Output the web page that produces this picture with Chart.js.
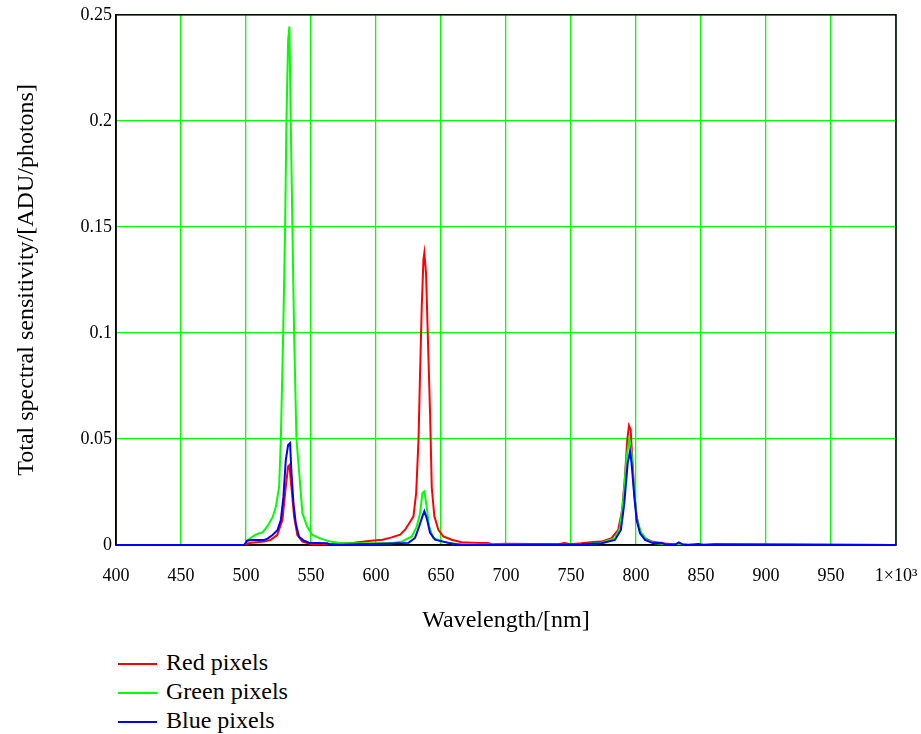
<!DOCTYPE html>
<html>
<head>
<meta charset="utf-8">
<script src="https://cdn.jsdelivr.net/npm/chart.js@4.4.0/dist/chart.umd.min.js"></script>
<style>
    body { margin: 0; background: #fff; }
    #wrap { position: relative; width: 921px; height: 734px; }
    #chart { position: absolute; left: 0; top: 0; }
    .legend { position: absolute; left: 118px; top: 648px; font-family: "Liberation Serif", serif; font-size: 24px; color: #000; }
    .legend div { height: 29px; line-height: 29px; white-space: nowrap; }
    .legend .swatch { display: inline-block; width: 39px; height: 0; border-top: 2px solid; vertical-align: middle; margin-right: 9px; }
</style>
</head>
<body>
<div id="wrap">
    <canvas id="chart" width="921" height="645"></canvas>
    <div class="legend" id="legend"></div>
</div>
<script>
// Axis ticks
const xTickValues = [400, 450, 500, 550, 600, 650, 700, 750, 800, 850, 900, 950, 1000];
const xTickLabels = ['400', '450', '500', '550', '600', '650', '700', '750', '800', '850', '900', '950', '1×10³'];
const yTickLabels = ['0', '0.05', '0.1', '0.15', '0.2', '0.25'];

// Red pixels (wavelength nm / sensitivity)
const redNm = [400, 498, 500, 504, 514, 519, 524, 528, 530.6, 532.4, 533.4, 534.9, 537, 539.5, 543.4, 549.7, 565, 583, 596, 605,
    612, 618.6, 622.4, 626.3, 628.8, 630.9, 632.7, 633.9, 635.2, 636.5, 637.2, 638.5, 639.8, 641.6, 642.9, 644.9, 648, 651.8, 658.2, 665.8,
    678.6, 686, 690, 700, 740, 745, 750, 758, 767, 773.5, 781.2, 786.3, 789.4, 791.5, 793.3, 794.6, 795.9, 797.2, 798.7, 800.5,
    803.1, 807, 812.1, 819.8, 830, 1000];
const redVal = [0, 0, 0.0005, 0.0011, 0.0016, 0.0024, 0.0047, 0.0118, 0.0275, 0.037, 0.0377, 0.0275, 0.0134, 0.0047, 0.0016, 0.0005, 0.0005, 0.0011, 0.002, 0.0025,
    0.0036, 0.0049, 0.0072, 0.011, 0.0135, 0.0245, 0.0497, 0.081, 0.1126, 0.1346, 0.1377, 0.128, 0.1, 0.062, 0.027, 0.0135, 0.0072, 0.004, 0.0025, 0.0013,
    0.001, 0.0009, 0.0003, 0.0006, 0.0004, 0.0009, 0.0004, 0.0008, 0.0014, 0.0016, 0.0032, 0.0071, 0.0166, 0.0323, 0.0497, 0.0563, 0.0544, 0.0402, 0.0244, 0.0134,
    0.0063, 0.0032, 0.0016, 0.0008, 0.0002, 0];

// Green pixels
const greenNm = [400, 498.7, 500, 502.6, 507.7, 512.8, 516.6, 520.4, 523, 525.5, 526.8, 528.6, 530.1, 531.1, 532.4, 533.4, 534.4, 535.7, 537, 538.8,
    540.8, 543.4, 547, 551, 557.4, 565, 572.7, 600, 612, 620, 627.6, 631.4, 633.9, 635.7, 637.2, 639, 640.8, 644, 650.5, 660.7,
    680, 760, 773.5, 783.8, 787.6, 790.2, 792.8, 794.8, 796.6, 798.5, 800.5, 803.9, 808.2, 814.7, 830, 1000];
const greenVal = [0, 0, 0.001, 0.003, 0.005, 0.006, 0.009, 0.013, 0.018, 0.0275, 0.05, 0.1, 0.15, 0.2, 0.238, 0.2445, 0.2, 0.15, 0.1, 0.05,
    0.035, 0.015, 0.0087, 0.0047, 0.003, 0.0016, 0.0008, 0.0008, 0.0008, 0.0017, 0.004, 0.0088, 0.015, 0.0245, 0.0253, 0.018, 0.0088, 0.0033, 0.0017, 0.0006,
    0.0002, 0.0003, 0.0011, 0.0032, 0.0079, 0.0213, 0.0418, 0.0497, 0.0434, 0.026, 0.0126, 0.0058, 0.0024, 0.0008, 0.0002, 0];

// Blue pixels
const blueNm = [400, 498.7, 500.8, 503.8, 514, 516.6, 520.4, 524.2, 526.8, 528.8, 530.6, 532.4, 533.9, 534.9, 536.5, 538.3, 540.8, 544.6, 548.5, 562.5,
    565, 625, 630, 633.2, 635.7, 637.2, 639, 641.6, 645.4, 655.6, 665, 758, 773.5, 783.8, 788.4, 791, 793.6, 795.4, 796.6, 798.7,
    800.5, 803.1, 807, 813.4, 819.8, 822.4, 830, 833, 836, 840.5, 848, 852, 860, 1000];
const blueVal = [0, 0, 0.002, 0.0024, 0.0024, 0.003, 0.0047, 0.007, 0.0118, 0.0228, 0.04, 0.0472, 0.048, 0.035, 0.0197, 0.0102, 0.0039, 0.002, 0.0011, 0.0008,
    0, 0.001, 0.0033, 0.0088, 0.0135, 0.0159, 0.0127, 0.0057, 0.0025, 0.001, 0, 0.0003, 0.0008, 0.0024, 0.0071, 0.0197, 0.0386, 0.0442, 0.0386, 0.0229,
    0.0118, 0.0055, 0.0024, 0.0008, 0.0011, 0.0003, 0.0002, 0.0012, 0.0002, 0, 0.0005, 0, 0.0003, 0];

const seriesNames = ['Red pixels', 'Green pixels', 'Blue pixels'];
const seriesColors = ['#ff0000', '#00ff00', '#0000ff'];

function toPoints(xs, ys) {
    return xs.map((x, i) => ({ x: x, y: ys[i] }));
}

const serif = '"Liberation Serif", "Times New Roman", serif';

// black frame round the plot area (top and right sides)
const framePlugin = {
    id: 'frame',
    beforeDatasetsDraw(chart) {
        const { ctx, chartArea: a } = chart;
        ctx.save();
        ctx.strokeStyle = '#000';
        ctx.lineWidth = 1.5;
        ctx.strokeRect(a.left, a.top, a.right - a.left, a.bottom - a.top);
        ctx.restore();
    }
};

new Chart(document.getElementById('chart'), {
    type: 'line',
    data: {
        datasets: [
            { label: seriesNames[0], data: toPoints(redNm, redVal), borderColor: seriesColors[0], order: 3 },
            { label: seriesNames[1], data: toPoints(greenNm, greenVal), borderColor: seriesColors[1], order: 2 },
            { label: seriesNames[2], data: toPoints(blueNm, blueVal), borderColor: seriesColors[2], order: 1 }
        ]
    },
    options: {
        responsive: false,
        animation: false,
        devicePixelRatio: 1,
        layout: { padding: { left: 0, right: 25, top: 13, bottom: 0 } },
        elements: {
            line: { borderWidth: 2, tension: 0 },
            point: { radius: 0 }
        },
        plugins: {
            legend: { display: false },
            tooltip: { enabled: false }
        },
        scales: {
            x: {
                type: 'linear',
                min: 400,
                max: 1000,
                afterFit(scale) {
                    scale.height = 100;
                    scale.paddingLeft = 0;
                    scale.paddingRight = 0;
                },
                afterBuildTicks(scale) { scale.ticks = xTickValues.map(v => ({ value: v })); },
                ticks: {
                    autoSkip: false,
                    maxRotation: 0,
                    padding: 20,
                    color: '#000',
                    font: { family: serif, size: 18 },
                    callback: (value) => xTickLabels[xTickValues.indexOf(value)]
                },
                grid: { color: '#00ff00', lineWidth: 1.3, drawTicks: false },
                border: { color: '#000', width: 1.5 },
                title: {
                    display: true,
                    text: 'Wavelength/[nm]',
                    color: '#000',
                    font: { family: serif, size: 24 },
                    padding: { top: 0, bottom: 10 }
                }
            },
            y: {
                min: 0,
                max: 0.25,
                afterFit(scale) { scale.width = 116; },
                ticks: {
                    stepSize: 0.05,
                    padding: 4,
                    color: '#000',
                    font: { family: serif, size: 18 },
                    callback: (value, index) => yTickLabels[index]
                },
                grid: { color: '#00ff00', lineWidth: 1.3, drawTicks: false },
                border: { color: '#000', width: 1.5 },
                title: {
                    display: true,
                    text: 'Total spectral sensitivity/[ADU/photons]',
                    color: '#000',
                    font: { family: serif, size: 24 },
                    padding: { top: 12, bottom: 0 }
                }
            }
        }
    },
    plugins: [framePlugin]
});

// legend below the chart
const legend = document.getElementById('legend');
seriesNames.forEach((name, i) => {
    const row = document.createElement('div');
    row.innerHTML = `<span class="swatch" style="border-color:${seriesColors[i]}"></span>${name}`;
    legend.appendChild(row);
});
</script>
</body>
</html>
